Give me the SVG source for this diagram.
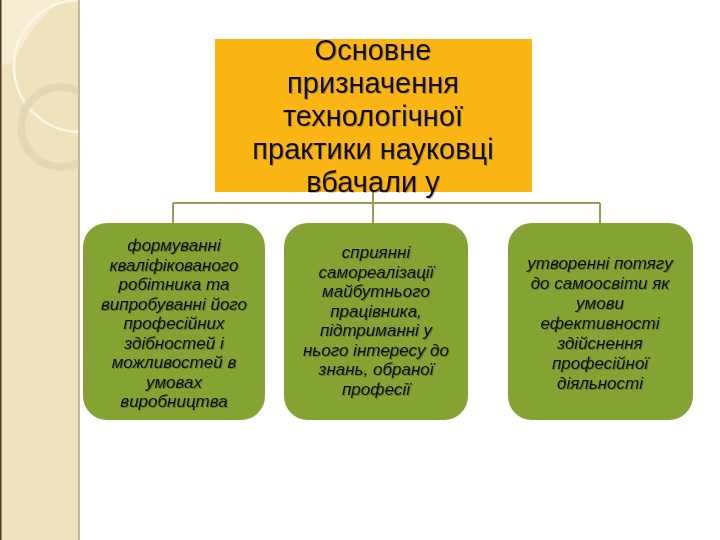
<svg xmlns="http://www.w3.org/2000/svg" width="720" height="540" viewBox="0 0 720 540">
<style>
.t{font-family:"Liberation Sans",Arial,sans-serif;text-anchor:middle;fill:#111;}
.title{font-size:29px;}
.item{font-size:17px;font-style:italic;}
.box{fill:#84a333;}
.conn{stroke:#9a9a52;stroke-width:2;fill:none;}
</style>
<defs>
<clipPath id="pc"><rect x="0" y="0" width="79" height="540"/></clipPath>
<filter id="sh" x="-10%" y="-10%" width="120%" height="130%"><feDropShadow dx="1" dy="1" stdDeviation="0.6" flood-color="#000" flood-opacity="0.25"/></filter>
</defs>
<rect width="720" height="540" fill="#ffffff"/>
<g id="panel">
<rect x="0" y="0" width="79" height="540" fill="#efe3bd"/>
<g clip-path="url(#pc)">
<path d="M0,0 H62 Q30,25 14,62 L0,66 Z" fill="#f5ecd2"/>
<circle cx="80" cy="66" r="66" fill="none" stroke="#fbf6e6" stroke-width="2.5"/>
<circle cx="61" cy="127" r="40" fill="none" stroke="#ddd4b4" stroke-width="8" opacity="0.8"/>
</g>
<rect x="78" y="0" width="2" height="540" fill="#c9b990"/>
<rect x="0" y="0" width="1.5" height="540" fill="#4e3b22"/>
</g>
<g id="connectors">
<path class="conn" d="M373,192 V203 M173,203 H600 M173,203 V223 M373,203 V223 M600,203 V223"/>
</g>
<g id="title">
<rect x="215" y="39" width="317" height="153" fill="#fbb514"/>
<g class="t title" filter="url(#sh)">
<text x="373" y="60">Основне</text>
<text x="373" y="93">призначення</text>
<text x="373" y="126">технологічної</text>
<text x="373" y="159">практики науковці</text>
<text x="373" y="192">вбачали у</text>
</g>
</g>
<g id="box1">
<rect class="box" x="83" y="223" width="182" height="197" rx="24"/>
<g class="t item" filter="url(#sh)">
<text x="174" y="251">формуванні</text>
<text x="174" y="270.5">кваліфікованого</text>
<text x="174" y="290">робітника та</text>
<text x="174" y="309.5">випробуванні його</text>
<text x="174" y="329">професійних</text>
<text x="174" y="348.5">здібностей і</text>
<text x="174" y="368">можливостей в</text>
<text x="174" y="387.5">умовах</text>
<text x="174" y="407">виробництва</text>
</g>
</g>
<g id="box2">
<rect class="box" x="284" y="223" width="184" height="197" rx="24"/>
<g class="t item" filter="url(#sh)">
<text x="376" y="258">сприянні</text>
<text x="376" y="277.5">самореалізації</text>
<text x="376" y="297">майбутнього</text>
<text x="376" y="316.5">працівника,</text>
<text x="376" y="336">підтриманні у</text>
<text x="376" y="355.5">нього інтересу до</text>
<text x="376" y="375">знань, обраної</text>
<text x="376" y="394.5">професії</text>
</g>
</g>
<g id="box3">
<rect class="box" x="508" y="223" width="185" height="197" rx="24"/>
<g class="t item" filter="url(#sh)">
<text x="600" y="269">утворенні потягу</text>
<text x="600" y="289">до самоосвіти як</text>
<text x="600" y="309">умови</text>
<text x="600" y="329">ефективності</text>
<text x="600" y="349">здійснення</text>
<text x="600" y="369">професійної</text>
<text x="600" y="389">діяльності</text>
</g>
</g>
</svg>
